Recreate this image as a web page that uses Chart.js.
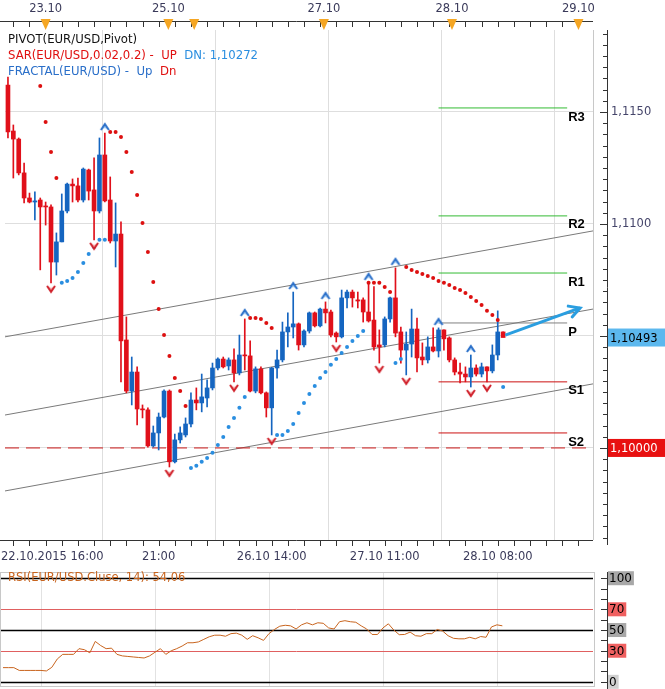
<!DOCTYPE html>
<html><head><meta charset="utf-8">
<script src="https://cdn.jsdelivr.net/npm/chart.js@4"></script>
<style>
body{margin:0;background:#fff;width:665px;height:689px;overflow:hidden;position:relative}
#c1{position:absolute;left:0;top:0;width:665px;height:565px}
#c2{position:absolute;left:0;top:565px;width:665px;height:124px}
</style></head><body>
<canvas id="c1" width="665" height="565"></canvas>
<canvas id="c2" width="665" height="124"></canvas>
<script>
const openP=[1.11620,1.11415,1.11379,1.11228,1.11116,1.11098,1.11107,1.11080,1.11076,1.10830,
1.10920,1.11058,1.11178,1.11170,1.11107,1.11241,1.11152,1.11058,1.11308,1.11107,
1.10924,1.10955,1.10482,1.10254,1.10339,1.10174,1.10170,1.10009,1.10067,1.10138,
1.10254,1.09938,1.10036,1.10058,1.10107,1.10214,1.10201,1.10223,1.10268,1.10357,
1.10397,1.10366,1.10393,1.10335,1.10415,1.10411,1.10254,1.10353,1.10246,1.10179,
1.10357,1.10393,1.10518,1.10540,1.10554,1.10460,1.10522,1.10603,1.10545,1.10620,
1.10607,1.10513,1.10496,1.10670,1.10696,1.10661,1.10661,1.10607,1.10571,1.10460,
1.10460,1.10576,1.10670,1.10518,1.10437,1.10464,1.10531,1.10406,1.10393,1.10451,
1.10433,1.10527,1.10491,1.10393,1.10339,1.10330,1.10317,1.10357,1.10330,1.10362,
1.10344,1.10415,1.10518];
const highP=[1.11656,1.11442,1.11384,1.11272,1.11138,1.11143,1.11116,1.11098,1.11085,1.10960,
1.11134,1.11183,1.11201,1.11205,1.11250,1.11245,1.11295,1.11384,1.11406,1.11210,
1.11094,1.11009,1.10585,1.10406,1.10362,1.10192,1.10179,1.10098,1.10156,1.10259,
1.10259,1.10062,1.10094,1.10134,1.10246,1.10268,1.10330,1.10304,1.10379,1.10402,
1.10406,1.10402,1.10442,1.10504,1.10576,1.10478,1.10362,1.10362,1.10250,1.10360,
1.10437,1.10562,1.10603,1.10696,1.10558,1.10527,1.10607,1.10607,1.10625,1.10652,
1.10616,1.10518,1.10705,1.10705,1.10705,1.10696,1.10670,1.10737,1.10720,1.10527,
1.10585,1.10674,1.10804,1.10540,1.10518,1.10620,1.10580,1.10469,1.10496,1.10536,
1.10536,1.10527,1.10496,1.10402,1.10379,1.10362,1.10415,1.10371,1.10379,1.10362,
1.10460,1.10612,1.10518];
const lowP=[1.11384,1.11205,1.11219,1.11094,1.11094,1.11018,1.10795,1.10995,1.10737,1.10772,
1.10920,1.11049,1.11098,1.11098,1.11098,1.11107,1.10929,1.11049,1.11098,1.10915,
1.10808,1.10295,1.10246,1.10192,1.10103,1.10134,1.10004,1.10004,1.09991,1.10134,
1.09915,1.09933,1.10022,1.10049,1.10094,1.10170,1.10161,1.10183,1.10259,1.10348,
1.10357,1.10348,1.10295,1.10326,1.10348,1.10250,1.10246,1.10241,1.10138,1.10058,
1.10312,1.10384,1.10451,1.10491,1.10437,1.10451,1.10513,1.10540,1.10540,1.10558,
1.10496,1.10473,1.10491,1.10625,1.10629,1.10625,1.10562,1.10562,1.10437,1.10379,
1.10451,1.10562,1.10496,1.10379,1.10326,1.10406,1.10339,1.10371,1.10379,1.10429,
1.10406,1.10437,1.10384,1.10326,1.10290,1.10295,1.10272,1.10321,1.10317,1.10295,
1.10335,1.10393,1.10496];
const closeP=[1.11411,1.11379,1.11228,1.11116,1.11098,1.11103,1.11076,1.11076,1.10830,1.10920,
1.11058,1.11178,1.11170,1.11107,1.11245,1.11147,1.11058,1.11308,1.11103,1.10924,
1.10955,1.10478,1.10254,1.10339,1.10174,1.10170,1.10009,1.10067,1.10138,1.10254,
1.09938,1.10036,1.10067,1.10107,1.10214,1.10201,1.10228,1.10268,1.10357,1.10397,
1.10362,1.10393,1.10335,1.10415,1.10411,1.10254,1.10353,1.10246,1.10179,1.10357,
1.10393,1.10518,1.10540,1.10554,1.10460,1.10522,1.10603,1.10545,1.10620,1.10603,
1.10504,1.10496,1.10670,1.10696,1.10670,1.10656,1.10607,1.10567,1.10451,1.10451,
1.10576,1.10670,1.10513,1.10437,1.10464,1.10531,1.10402,1.10393,1.10451,1.10433,
1.10527,1.10487,1.10393,1.10339,1.10330,1.10317,1.10357,1.10330,1.10362,1.10344,
1.10415,1.10518,1.10493];
const sarRed=[null,null,null,null,null,null,1.11616,1.11455,1.11321,1.11205,
null,null,null,null,null,null,null,null,null,
1.11411,1.11411,1.11388,1.11321,1.11232,1.11129,1.11004,1.10875,1.10741,1.10620,1.10504,1.10411,1.10312,1.10254,1.10187,
null,null,null,null,null,null,null,null,null,null,null,
1.10580,1.10580,1.10576,1.10558,1.10536,
null,null,null,null,null,null,null,null,null,null,null,null,null,null,null,null,null,
1.10737,1.10737,1.10737,1.10719,1.10696,
null,null,
1.10808,1.10795,1.10786,1.10777,1.10768,1.10759,1.10745,1.10737,1.10728,1.10714,1.10705,1.10692,1.10674,1.10656,1.10638,1.10612,1.10594,1.10571,
null];
const sarBlue=[null,null,null,null,null,null,null,null,null,null,
1.10737,1.10745,1.10759,1.10786,1.10826,1.10866,1.10897,1.10929,1.10929,
null,null,null,null,null,null,null,null,null,null,null,null,null,null,null,
1.09911,1.09920,1.09938,1.09955,1.09978,1.10013,1.10049,1.10094,1.10134,1.10179,1.10228,
null,null,null,null,null,
1.10058,1.10058,1.10076,1.10107,1.10156,1.10201,1.10241,1.10277,1.10312,1.10339,1.10371,1.10397,1.10424,1.10451,1.10478,1.10500,1.10522,
null,null,null,null,null,
1.10379,1.10397,
null,null,null,null,null,null,null,null,null,null,null,null,null,null,null,null,null,null,
1.10272];
const fractalUpBars=[18,44,53,59,67,72,80,86];
const fractalDnBars=[8,16,30,42,49,61,69,74,86,89];
const pivotNames=['R3','R2','R1','P','S1','S2'];
const pivotValues=[1.11518,1.11036,1.10781,1.10558,1.10295,1.10067];
const pivotFrom=80, pivotTo=103.9;
const channelX=[-0.55,108.7];
const channelTop=[1.10496,1.10969];
const channelMid=[1.10147,1.10620];
const channelBot=[1.09808,1.10286];
const levelLine=1.10000;
const currentPrice=1.10493;
const arrowX=[92.4,106.3], arrowY=[1.10504,1.10625];
const xTickBars=[7,28,49,70,91];
const xTickLabels=['22.10.2015 16:00','21:00','26.10 14:00','27.10 11:00','28.10 08:00'];
const topDateBars=[7,29.8,58.7,82.5,106];
const topDateLabels=['23.10','25.10','27.10','28.10','29.10'];
const eventBars=[7,29.8,34.6,58.7,82.5,106];
const priceLabels=[1.115,1.11];
const rsi=[13.7,13.7,13.7,11,11,11,11,11,10.5,14,22,26.5,26.5,26.5,32,31,28,39,35,32,32.5,26.5,25,24.5,24,23.5,23,25,28.5,32,
26.5,30,32,34.5,37.7,37.7,38.5,41,43.5,45,45,44,46.5,47,45,41,44.5,42.5,40,46.5,50.5,53.7,54.6,54,51,55,57,55,57,56.5,
52,51,58,59,58,57.5,54,51,45.7,45.7,52,56,50,45.5,45.7,48,44.5,44,46.5,46.5,50.5,49,44.5,42,41.5,41.5,43,41.5,43.7,43,
53,55,54.06];
const rsiLevels=[100,70,50,30,0];

const RED='#e0101a', BLUE='#1565c0';
const FONT='"DejaVu Sans", Verdana, sans-serif';
const idx=openP.map((_,i)=>i);
const candleColor=idx.map(i=>closeP[i]>=openP[i]?BLUE:RED);

function mkFractal(up){
  const c=document.createElement('canvas');c.width=12;c.height=22;const g=c.getContext('2d');
  g.lineWidth=2;g.lineJoin='miter';
  if(up){g.fillStyle='#a8d0f5';g.strokeStyle='#2a6fc9';
    g.beginPath();g.moveTo(2,8);g.lineTo(6,2);g.lineTo(10,8);g.lineTo(6,6);g.closePath();g.fill();
    g.beginPath();g.moveTo(2,8);g.lineTo(6,2);g.lineTo(10,8);g.stroke();}
  else{g.fillStyle='#f7b0b0';g.strokeStyle='#d0202a';
    g.beginPath();g.moveTo(2,14);g.lineTo(6,20);g.lineTo(10,14);g.lineTo(6,16);g.closePath();g.fill();
    g.beginPath();g.moveTo(2,14);g.lineTo(6,20);g.lineTo(10,14);g.stroke();}
  return c;
}
const upImg=mkFractal(true), dnImg=mkFractal(false);
const pts=(arr)=>arr.map((v,i)=>v==null?null:{x:i,y:v}).filter(p=>p);
const line2=(ys,col,w,order,dash)=>({type:'line',data:channelX.map((x,i)=>({x,y:ys[i]})),borderColor:col,borderWidth:w,pointRadius:0,order,borderDash:dash||[]});

const mainPlugin={id:'mainDeco',
 afterDraw(chart){
  const {ctx,chartArea:a,scales:{x,y}}=chart;
  ctx.save();
  ctx.strokeStyle='#c8c8c8';ctx.lineWidth=1;
  ctx.beginPath();ctx.moveTo(a.right+0.5,a.top);ctx.lineTo(a.right+0.5,a.bottom);ctx.stroke();
  ctx.strokeStyle='#333';ctx.beginPath();ctx.moveTo(607.5,a.top);ctx.lineTo(607.5,a.bottom+5);ctx.stroke();
  for(let k=0;k<=46;k++){const v=1.0960+k*0.0005;const py=Math.round(y.getPixelForValue(v))+0.5;
    if(py<a.top||py>a.bottom)continue;const big=Math.abs(v*200-Math.round(v*200))<1e-6;
    ctx.beginPath();ctx.moveTo(big?600:603,py);ctx.lineTo(607,py);ctx.stroke();}
  ctx.font='11.5px '+FONT;ctx.textBaseline='middle';ctx.fillStyle='#45456a';
  priceLabels.forEach(v=>ctx.fillText(v.toFixed(4).replace('.',','),611,y.getPixelForValue(v)));
  const box=(v,bg,fg,txt)=>{const py=y.getPixelForValue(v);ctx.fillStyle=bg;ctx.fillRect(608,py-9,57,18);ctx.fillStyle=fg;ctx.fillText(txt,610,py+1);};
  box(currentPrice,'#5cb8ee','#000',currentPrice.toFixed(5).replace('.',','));
  box(levelLine,'#e81010','#fff',levelLine.toFixed(5).replace('.',','));
  ctx.strokeStyle='#333';ctx.beginPath();ctx.moveTo(0,21.5);ctx.lineTo(a.right,21.5);ctx.stroke();
  for(let b=1;b<110;b+=3){const px=Math.round(x.getPixelForValue(b))+0.5;if(px>a.right)break;ctx.beginPath();ctx.moveTo(px,21);ctx.lineTo(px,27);ctx.stroke();}
  ctx.fillStyle='#3a3a5a';ctx.textAlign='center';ctx.font='11.5px '+FONT;
  topDateBars.forEach((b,i)=>ctx.fillText(topDateLabels[i],x.getPixelForValue(b),9));
  ctx.fillStyle='#f5a623';
  eventBars.forEach(b=>{const px=x.getPixelForValue(b);ctx.beginPath();ctx.moveTo(px-5,19);ctx.lineTo(px+5,19);ctx.lineTo(px,30);ctx.closePath();ctx.fill();});
  ctx.strokeStyle='#333';ctx.beginPath();ctx.moveTo(0,a.bottom+0.5);ctx.lineTo(a.right,a.bottom+0.5);ctx.stroke();
  for(let b=1;b<110;b+=3){const px=Math.round(x.getPixelForValue(b))+0.5;if(px>a.right)break;ctx.beginPath();ctx.moveTo(px,a.bottom);ctx.lineTo(px,a.bottom+6);ctx.stroke();}
  ctx.fillStyle='#3a3a5a';
  xTickBars.forEach((b,i)=>{const w=ctx.measureText(xTickLabels[i]).width;let px=x.getPixelForValue(b);px=Math.max(px,w/2+1);ctx.fillText(xTickLabels[i],px,557);});
  ctx.textAlign='left';ctx.font='bold 13px "Liberation Sans", Arial';ctx.fillStyle='#000';
  pivotValues.forEach((v,i)=>ctx.fillText(pivotNames[i],x.getPixelForValue(pivotTo)+1,y.getPixelForValue(v)+9));
  const ex=x.getPixelForValue(arrowX[1]),ey=y.getPixelForValue(arrowY[1]);
  const sx=x.getPixelForValue(arrowX[0]),sy=y.getPixelForValue(arrowY[0]);
  const ang=Math.atan2(ey-sy,ex-sx);ctx.strokeStyle='#2a9ee0';ctx.lineWidth=3;ctx.lineCap='round';
  ctx.beginPath();ctx.moveTo(ex-12*Math.cos(ang-0.5),ey-12*Math.sin(ang-0.5));ctx.lineTo(ex,ey);ctx.lineTo(ex-12*Math.cos(ang+0.5),ey-12*Math.sin(ang+0.5));ctx.stroke();
  ctx.font='11.7px '+FONT;ctx.textBaseline='middle';
  ctx.fillStyle='#111';ctx.fillText('PIVOT(EUR/USD,Pivot)',8,40);
  ctx.fillStyle='#e01010';let s='SAR(EUR/USD,0.02,0.2) -  UP  ';ctx.fillText(s,8,56);
  ctx.fillStyle='#2a8ee0';ctx.fillText('DN: 1,10272',8+ctx.measureText(s).width,56);
  ctx.fillStyle='#2a6fc9';s='FRACTAL(EUR/USD) -  Up  ';ctx.fillText(s,8,72);
  ctx.fillStyle='#e01010';ctx.fillText('Dn',8+ctx.measureText(s).width,72);
  ctx.restore();
 }};

new Chart(document.getElementById('c1'),{
 type:'bar',
 data:{datasets:[
  {type:'bar',data:idx.map(i=>({x:i,y:[lowP[i],highP[i]]})),backgroundColor:candleColor,barThickness:1,grouped:false,order:5},
  {type:'bar',data:idx.map(i=>({x:i,y:[openP[i],closeP[i]]})),backgroundColor:candleColor,barThickness:4,minBarLength:1,grouped:false,order:4},
  line2(channelTop,'#7a7a7a',1,10),line2(channelMid,'#7a7a7a',1,10),line2(channelBot,'#7a7a7a',1,10),
  {type:'line',data:channelX.map(x=>({x,y:levelLine})),borderColor:'#cc1818',borderWidth:1,borderDash:[14,7],pointRadius:0,order:8},
  ...pivotValues.map((v,i)=>({type:'line',data:[{x:pivotFrom,y:v},{x:pivotTo,y:v}],borderColor:pivotNames[i][0]==='R'?'#33bb33':(pivotNames[i]==='P'?'#808080':'#cc1010'),borderWidth:1,pointRadius:0,order:9})),
  {type:'line',data:pts(sarRed),showLine:false,pointRadius:2,pointBackgroundColor:'#dd1010',pointBorderWidth:0,order:3},
  {type:'line',data:pts(sarBlue),showLine:false,pointRadius:2,pointBackgroundColor:'#2a8ee0',pointBorderWidth:0,order:3},
  {type:'line',data:fractalUpBars.map(b=>({x:b,y:highP[b]})),showLine:false,pointStyle:upImg,order:2},
  {type:'line',data:fractalDnBars.map(b=>({x:b,y:lowP[b]})),showLine:false,pointStyle:dnImg,order:2},
  {type:'line',data:arrowX.map((x,i)=>({x,y:arrowY[i]})),borderColor:'#2a9ee0',borderWidth:3,pointRadius:0,order:1}
 ]},
 options:{responsive:false,animation:false,events:[],
  layout:{padding:{top:30,left:0,right:0,bottom:0}},
  plugins:{legend:{display:false},tooltip:{enabled:false}},
  scales:{
   x:{type:'linear',min:channelX[0],max:channelX[1],offset:false,
      afterBuildTicks:s=>{s.ticks=xTickBars.map(v=>({value:v}));},
      afterFit:s=>{s.height=25;},
      ticks:{display:false},grid:{color:'#dedede',drawTicks:false},border:{display:false}},
   y:{position:'right',min:1.09589,max:1.11866,
      afterBuildTicks:s=>{s.ticks=[1.1,1.105,1.11,1.115].map(v=>({value:v}));},
      afterFit:s=>{s.width=72;},
      ticks:{display:false},grid:{color:'#dedede',drawTicks:false},border:{display:false}}
  }},
 plugins:[mainPlugin]
});

const rsiPlugin={id:'rsiDeco',
 beforeDatasetsDraw(chart){
  const {ctx,chartArea:a,scales:{x,y}}=chart;ctx.save();
  ctx.strokeStyle='#e2e2e2';ctx.lineWidth=1;
  xTickBars.forEach(b=>{const px=Math.round(x.getPixelForValue(b))+0.5;ctx.beginPath();ctx.moveTo(px,a.top);ctx.lineTo(px,a.bottom);ctx.stroke();});
  rsiLevels.forEach(v=>{const py=Math.round(y.getPixelForValue(v))+0.5;const red=(v===70||v===30);
    ctx.strokeStyle=red?'#e06060':'#000';ctx.lineWidth=red?1:1.5;ctx.beginPath();ctx.moveTo(0,py);ctx.lineTo(a.right,py);ctx.stroke();});
  ctx.restore();},
 afterDraw(chart){
  const {ctx,chartArea:a,scales:{x,y}}=chart;ctx.save();
  ctx.strokeStyle='#c8c8c8';ctx.lineWidth=1;ctx.strokeRect(0.5,a.top+0.5,a.right+1,a.height-1);
  ctx.strokeStyle='#333';ctx.beginPath();ctx.moveTo(607.5,a.top);ctx.lineTo(607.5,a.bottom+2);ctx.stroke();
  for(let v=0;v<=100;v+=10){const py=Math.round(y.getPixelForValue(v))+0.5;ctx.beginPath();ctx.moveTo(601,py);ctx.lineTo(607,py);ctx.stroke();}
  ctx.font='12px '+FONT;ctx.textBaseline='middle';
  rsiLevels.forEach(v=>{const py=y.getPixelForValue(v);const red=(v===70||v===30);const t=String(v);const w=ctx.measureText(t).width+3;
    ctx.fillStyle=red?'#f06060':(v===0?'#d0d0d0':'#a8a8a8');ctx.fillRect(608,py-7,w,14);ctx.fillStyle='#000';ctx.fillText(t,609,py+1);});
  ctx.font='11.5px '+FONT;ctx.fillStyle='#c8641e';ctx.fillText('RSI(EUR/USD.Cluse, 14): 54,06',8,13);
  ctx.restore();}};

new Chart(document.getElementById('c2'),{
 type:'line',
 data:{datasets:[{data:idx.map(i=>({x:i,y:rsi[i]})),borderColor:'#c8641e',borderWidth:1,pointRadius:0,tension:0}]},
 options:{responsive:false,animation:false,events:[],
  layout:{padding:{top:7,bottom:2,left:0,right:0}},
  plugins:{legend:{display:false},tooltip:{enabled:false}},
  scales:{
   x:{type:'linear',min:channelX[0],max:channelX[1],display:false},
   y:{position:'right',min:-5,max:106,afterFit:s=>{s.width=72;},ticks:{display:false},grid:{display:false},border:{display:false}}
  }},
 plugins:[rsiPlugin]
});
</script></body></html>
